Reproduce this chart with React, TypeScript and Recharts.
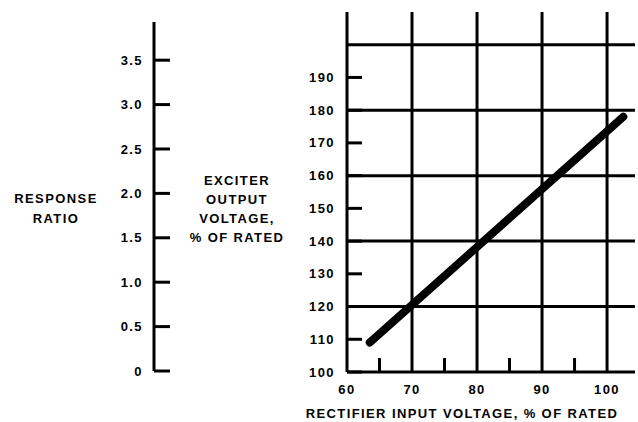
import { Line, LineChart, ReferenceLine, XAxis, YAxis } from "recharts";

const ratioTicks = [0, 0.5, 1.0, 1.5, 2.0, 2.5, 3.0, 3.5];
const voltageTicks = [100, 110, 120, 130, 140, 150, 160, 170, 180, 190];
const inputTicks = [60, 65, 70, 75, 80, 85, 90, 95, 100];
const gridInput = [70, 80, 90, 100];
const gridVoltage = [120, 140, 160, 180, 200];

// the one curve: exciter output vs rectifier input
const rectifierInput = [63.5, 102.5];
const exciterOutput = [109, 178];

const INK = "#000";
const FONT = "'Liberation Sans', Arial, sans-serif";

const textStyle = {
  fontFamily: FONT,
  fontWeight: 700,
  fontSize: 13,
  letterSpacing: 1.4,
  fill: INK,
};

const lineData = rectifierInput.map((input, i) => ({
  input,
  output: exciterOutput[i],
}));

function RatioTick({ x, y, payload }: any) {
  const v = payload.value as number;
  return (
    <g>
      <line x1={x} x2={x + 16} y1={y} y2={y} stroke={INK} strokeWidth={3} />
      <text x={x - 11} y={y} dy="0.35em" textAnchor="end" style={textStyle}>
        {v === 0 ? "0" : v.toFixed(1)}
      </text>
    </g>
  );
}

function VoltageTick({ x, y, payload }: any) {
  return (
    <g>
      <line x1={x} x2={x + 15} y1={y} y2={y} stroke={INK} strokeWidth={3} />
      <text x={x - 12} y={y} dy="0.35em" textAnchor="end" style={textStyle}>
        {payload.value}
      </text>
    </g>
  );
}

function InputTick({ x, y, payload }: any) {
  const v = payload.value as number;
  if (v % 10 !== 0) {
    return <line x1={x} x2={x} y1={y} y2={y - 14} stroke={INK} strokeWidth={3} />;
  }
  return (
    <text x={x} y={y + 17} dy="0.35em" textAnchor="middle" style={textStyle}>
      {v}
    </text>
  );
}

const htmlLabel = {
  position: "absolute" as const,
  fontFamily: FONT,
  fontWeight: 700,
  fontSize: 13,
  letterSpacing: 1.4,
  color: INK,
  textAlign: "center" as const,
  whiteSpace: "nowrap" as const,
};

export default function App() {
  return (
    <div
      style={{
        position: "absolute",
        left: 0,
        top: 0,
        width: 638,
        height: 422,
        background: "#fff",
        overflow: "hidden",
      }}
    >
      <div style={{ position: "absolute", left: 0, top: 0 }}>
        <LineChart
          width={300}
          height={422}
          data={ratioTicks.map((ratio, i) => ({ i, ratio }))}
          margin={{ top: 22, right: 10, bottom: 51, left: 0 }}
        >
          <XAxis dataKey="i" hide />
          <YAxis
            type="number"
            domain={[0, 3.93]}
            ticks={ratioTicks}
            width={154}
            axisLine={{ stroke: INK, strokeWidth: 3 }}
            tickLine={false}
            tickSize={0}
            tickMargin={0}
            tick={<RatioTick />}
            interval={0}
          />
          {/* invisible carrier so the standalone scale gets its ticks */}
          <Line
            dataKey="ratio"
            stroke="transparent"
            dot={false}
            activeDot={false}
            isAnimationActive={false}
          />
        </LineChart>
      </div>

      <div style={{ position: "absolute", left: 0, top: 0 }}>
        <LineChart
          width={638}
          height={422}
          data={lineData}
          margin={{ top: 12, right: 3, bottom: 0, left: 307 }}
        >
          {gridInput.map((v) => (
            <ReferenceLine key={`gx-${v}`} x={v} stroke={INK} strokeWidth={3} />
          ))}
          {gridVoltage.map((v) => (
            <ReferenceLine key={`gy-${v}`} y={v} stroke={INK} strokeWidth={3} />
          ))}
          <XAxis
            dataKey="input"
            type="number"
            domain={[60, 104.3]}
            ticks={inputTicks}
            interval={0}
            allowDataOverflow
            height={50}
            axisLine={{ stroke: INK, strokeWidth: 3 }}
            tickLine={false}
            tickSize={0}
            tickMargin={0}
            tick={<InputTick />}
          />
          <YAxis
            type="number"
            domain={[100, 210]}
            ticks={voltageTicks}
            interval={0}
            allowDataOverflow
            width={40}
            axisLine={{ stroke: INK, strokeWidth: 3 }}
            tickLine={false}
            tickSize={0}
            tickMargin={0}
            tick={<VoltageTick />}
          />
          <Line
            dataKey="output"
            type="linear"
            stroke={INK}
            strokeWidth={8}
            strokeLinecap="round"
            dot={false}
            activeDot={false}
            isAnimationActive={false}
          />
        </LineChart>
      </div>

      <div style={{ ...htmlLabel, left: 0, top: 189, width: 112, lineHeight: "20px" }}>
        RESPONSE
        <br />
        RATIO
      </div>
      <div style={{ ...htmlLabel, left: 177, top: 171, width: 120, lineHeight: "19px" }}>
        EXCITER
        <br />
        OUTPUT
        <br />
        VOLTAGE,
        <br />% OF RATED
      </div>
      <div style={{ ...htmlLabel, left: 262, top: 406, width: 400, lineHeight: "16px" }}>
        RECTIFIER INPUT VOLTAGE, % OF RATED
      </div>
    </div>
  );
}
